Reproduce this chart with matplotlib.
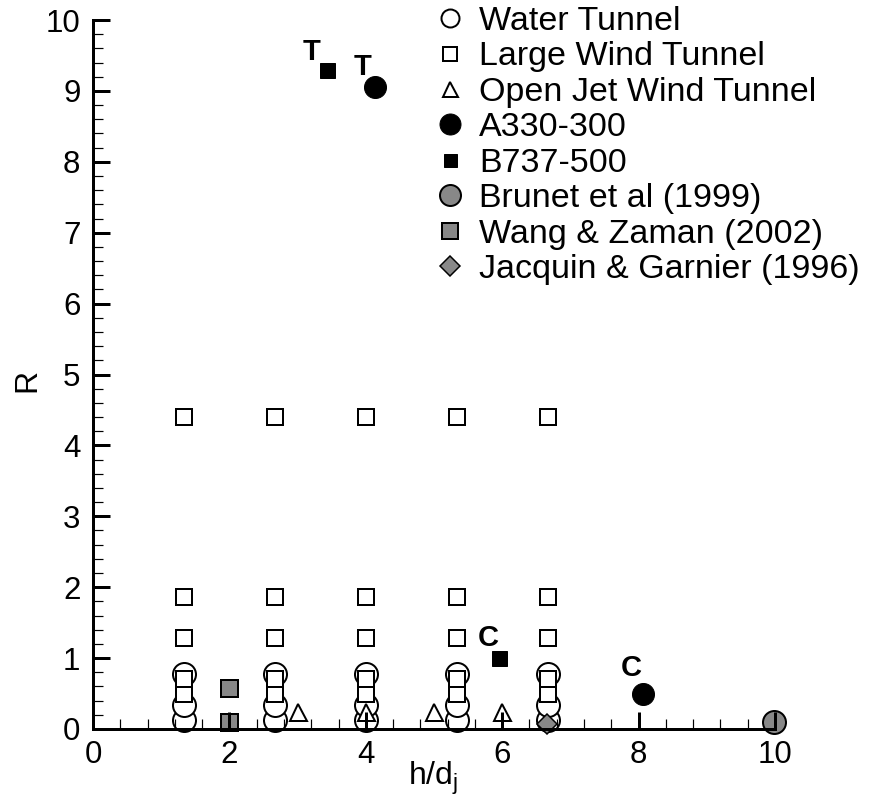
import matplotlib
matplotlib.use("Agg")
import matplotlib.pyplot as plt
from matplotlib.lines import Line2D
from matplotlib.ticker import MultipleLocator

plt.rcParams['font.family'] = ['Liberation Sans', 'DejaVu Sans']

# ---- data ----
water_x = [1.333, 1.333, 1.333, 2.667, 2.667, 2.667, 4.0, 4.0, 4.0,
           5.333, 5.333, 5.333, 6.667, 6.667, 6.667]
water_r = [0.12, 0.34, 0.78, 0.12, 0.34, 0.78, 0.12, 0.34, 0.78,
           0.12, 0.34, 0.78, 0.12, 0.34, 0.78]

large_x = [1.333, 1.333, 1.333, 1.333, 1.333,
           2.667, 2.667, 2.667, 2.667, 2.667,
           4.0, 4.0, 4.0, 4.0, 4.0,
           5.333, 5.333, 5.333, 5.333, 5.333,
           6.667, 6.667, 6.667, 6.667, 6.667]
large_r = [0.50, 0.71, 1.28, 1.86, 4.40,
           0.50, 0.71, 1.28, 1.86, 4.40,
           0.50, 0.71, 1.28, 1.86, 4.40,
           0.50, 0.71, 1.28, 1.86, 4.40,
           0.50, 0.71, 1.28, 1.86, 4.40]

openjet_x = [3.0, 4.0, 5.0, 6.0]
openjet_r = [0.24, 0.24, 0.24, 0.24]

a330_x = [4.13, 8.06]
a330_r = [9.06, 0.49]
a330_tags = ['T', 'C']

b737_x = [3.43, 5.96]
b737_r = [9.29, 1.00]
b737_tags = ['T', 'C']

brunet_x = [9.99]
brunet_r = [0.10]

wang_x = [2.0, 2.0]
wang_r = [0.58, 0.10]

jacquin_x = [6.66]
jacquin_r = [0.07]

labels = ['Water Tunnel', 'Large Wind Tunnel', 'Open Jet Wind Tunnel',
          'A330-300', 'B737-500', 'Brunet et al (1999)',
          'Wang & Zaman (2002)', 'Jacquin & Garnier (1996)']

xticks = [0, 2, 4, 6, 8, 10]
yticks = [0, 1, 2, 3, 4, 5, 6, 7, 8, 9, 10]

GRAY = '#888888'
PX = 72.0 / 100.0  # points per pixel at dpi 100

fig = plt.figure(figsize=(8.70, 8.07), dpi=100)
W, H = 870, 807
ax = fig.add_axes([93 / W, 1 - 729 / H, (775 - 93) / W, (729 - 20) / H])

kw = dict(linestyle='none', clip_on=False, markeredgecolor='black')
ax.plot(water_x, water_r, marker='o', ms=23 * PX, mfc='white', mew=2 * PX, **kw)
ax.plot(large_x, large_r, marker='s', ms=16 * PX, mfc='white', mew=2 * PX, **kw)
ax.plot(openjet_x, openjet_r, marker='^', ms=17 * PX, mfc='white', mew=2 * PX, **kw)
ax.plot(a330_x, a330_r, marker='o', ms=22 * PX, mfc='black', mew=1 * PX, **kw)
ax.plot(b737_x, b737_r, marker='s', ms=15 * PX, mfc='black', mew=1 * PX, **kw)
ax.plot(brunet_x, brunet_r, marker='o', ms=23 * PX, mfc=GRAY, mew=2 * PX, **kw)
ax.plot(wang_x, wang_r, marker='s', ms=17 * PX, mfc=GRAY, mew=2 * PX, **kw)
ax.plot(jacquin_x, jacquin_r, marker='D', ms=14 * PX, mfc=GRAY, mew=1.5 * PX, **kw)

tag_offsets = {('A330', 'T'): (-12, 20), ('A330', 'C'): (-11, 26),
               ('B737', 'T'): (-15, 18), ('B737', 'C'): (-11, 20)}
for name, xs, rs, tags in [('A330', a330_x, a330_r, a330_tags),
                           ('B737', b737_x, b737_r, b737_tags)]:
    for x, r, t in zip(xs, rs, tags):
        off = tag_offsets[(name, t)]
        ax.annotate(t, (x, r), xytext=(off[0] * PX, off[1] * PX),
                    textcoords='offset points', ha='center', va='center',
                    fontsize=21, fontweight='bold')

ax.set_xlim(0, 10)
ax.set_ylim(0, 10)
ax.set_xticks(xticks)
ax.set_yticks(yticks)
ax.xaxis.set_minor_locator(MultipleLocator(0.4))
ax.yaxis.set_minor_locator(MultipleLocator(0.2))
ax.tick_params(which='major', direction='in', length=17 * PX, width=3 * PX,
               labelsize=22.5, top=False, right=False)
ax.tick_params(which='minor', direction='in', length=10 * PX, width=1.2 * PX,
               top=False, right=False)
ax.tick_params(axis='x', which='major', pad=8)
ax.tick_params(axis='y', which='major', pad=9)
ax.set_axisbelow(False)
for s in ['top', 'right']:
    ax.spines[s].set_visible(False)
for s in ['left', 'bottom']:
    ax.spines[s].set_linewidth(3 * PX)
    ax.spines[s].set_zorder(3)

ax.set_xlabel('h/d$_\\mathregular{j}$', fontsize=23, va='center')
ax.xaxis.set_label_coords((433 - 93) / (775 - 93), -(778 - 729) / (729 - 20))
ax.set_ylabel('R', fontsize=23, va='center')
ax.yaxis.set_label_coords(-(93 - 27) / (775 - 93), (729 - 380) / (729 - 20))

handles = [
    Line2D([], [], marker='o', ms=18 * PX, mfc='white', mec='black', mew=2 * PX, ls='none'),
    Line2D([], [], marker='s', ms=14 * PX, mfc='white', mec='black', mew=2 * PX, ls='none'),
    Line2D([], [], marker='^', ms=15 * PX, mfc='white', mec='black', mew=2 * PX, ls='none'),
    Line2D([], [], marker='o', ms=21 * PX, mfc='black', mec='black', mew=1 * PX, ls='none'),
    Line2D([], [], marker='s', ms=13 * PX, mfc='black', mec='black', mew=1 * PX, ls='none'),
    Line2D([], [], marker='o', ms=21 * PX, mfc=GRAY, mec='black', mew=2 * PX, ls='none'),
    Line2D([], [], marker='s', ms=16 * PX, mfc=GRAY, mec='black', mew=2 * PX, ls='none'),
    Line2D([], [], marker='D', ms=14 * PX, mfc=GRAY, mec='black', mew=1.5 * PX, ls='none'),
]
fig.legend(handles, labels, loc='upper left', bbox_to_anchor=(433 / W, 1 - 6 / H),
           frameon=False, fontsize=24.5, handlelength=1.0, handletextpad=0.35,
           labelspacing=0.13, borderpad=0, borderaxespad=0)

fig.savefig('out.png', dpi=100)
